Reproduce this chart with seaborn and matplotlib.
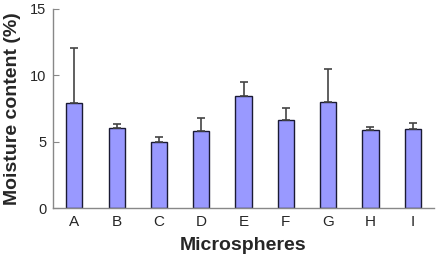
import matplotlib
matplotlib.use('Agg')
import matplotlib.pyplot as plt
import seaborn as sns
import numpy as np
import pandas as pd

sns.set_style('white')
plt.rcParams['font.family'] = ['Liberation Sans', 'DejaVu Sans']

samples = ['A', 'B', 'C', 'D', 'E', 'F', 'G', 'H', 'I']
moisture = [7.9, 6.0, 4.97, 5.8, 8.42, 6.65, 8.0, 5.9, 5.95]
moisture_sd = [4.15, 0.35, 0.38, 1.0, 1.05, 0.87, 2.5, 0.2, 0.45]

df = pd.DataFrame({'Microspheres': samples, 'Moisture': moisture})

fig, ax = plt.subplots(figsize=(4.46, 2.64), dpi=100)
fig.subplots_adjust(left=0.119, right=0.973, top=0.966, bottom=0.212)

sns.barplot(data=df, x='Microspheres', y='Moisture', color='#9999ff',
            saturation=1, width=0.38, edgecolor='#1a1a33', linewidth=1.0,
            errorbar=None, ax=ax)
ax.errorbar(np.arange(len(samples)), moisture,
            yerr=[np.zeros(len(samples)), moisture_sd],
            fmt='none', ecolor='#444444', elinewidth=1.2, capsize=3, capthick=1.2,
            zorder=1)

ax.set_xlim(-0.5, len(samples) - 0.5)
ax.set_ylim(0, 15)
ax.set_yticks([0, 5, 10, 15])
ax.set_xticks(np.arange(len(samples)) + 0.5, minor=True)

for s in ['top', 'right']:
    ax.spines[s].set_visible(False)
for s in ['left', 'bottom']:
    ax.spines[s].set_color('#888888')
    ax.spines[s].set_linewidth(1.0)

ax.tick_params(axis='x', which='major', length=0, labelsize=11, pad=5)
ax.tick_params(axis='x', which='minor', direction='in', length=4, color='#888888')
ax.tick_params(axis='y', direction='in', length=4, color='#888888', labelsize=10.5, left=True, pad=5)

ax.set_xlabel('Microspheres', fontsize=14, fontweight='bold', labelpad=6)
ax.set_ylabel('Moisture content (%)', fontsize=14, fontweight='bold', labelpad=6)

plt.savefig('out.png', dpi=100)
